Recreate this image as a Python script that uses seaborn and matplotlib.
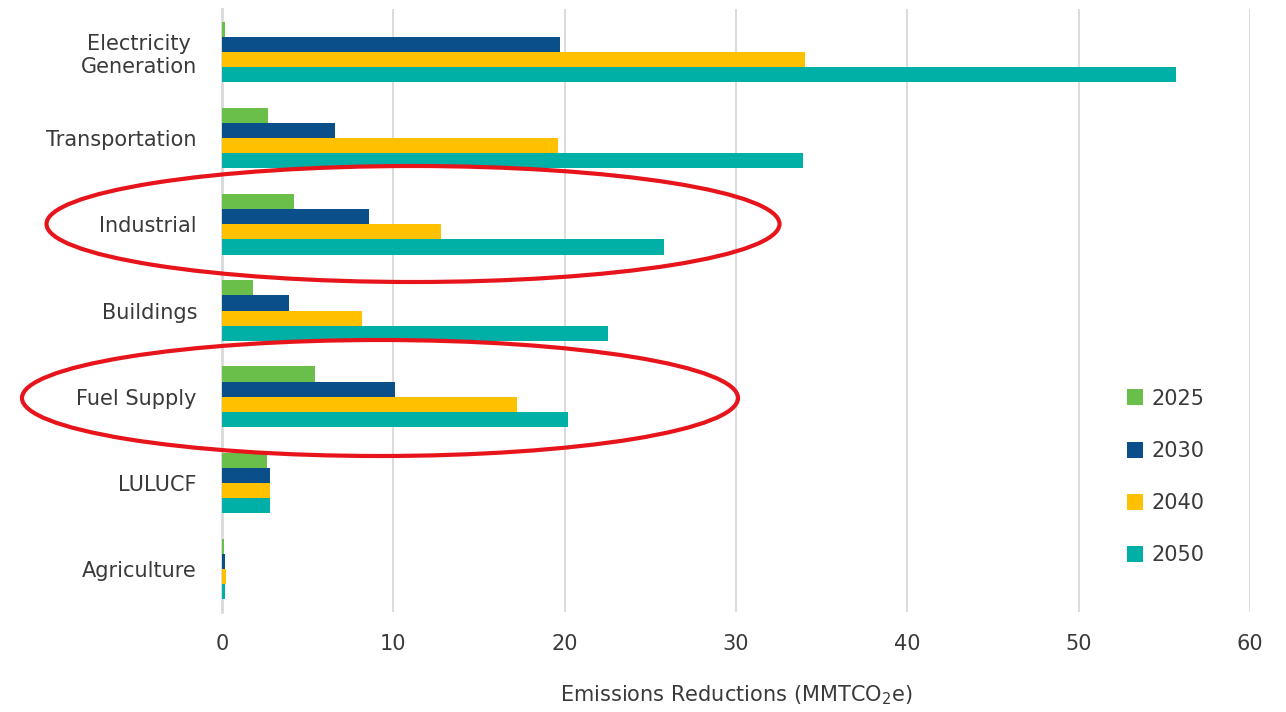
import matplotlib
matplotlib.use("Agg")
import matplotlib.pyplot as plt
import seaborn as sns
import pandas as pd
from matplotlib.patches import Ellipse

categories = ["Electricity\nGeneration", "Transportation", "Industrial", "Buildings",
              "Fuel Supply", "LULUCF", "Agriculture"]
years = ["2025", "2030", "2040", "2050"]
v2025 = [0.2, 2.7, 4.2, 1.8, 5.4, 2.6, 0.1]
v2030 = [19.7, 6.6, 8.6, 3.9, 10.1, 2.8, 0.15]
v2040 = [34.0, 19.6, 12.8, 8.2, 17.2, 2.8, 0.25]
v2050 = [55.7, 33.9, 25.8, 22.5, 20.2, 2.8, 0.2]
colors = ["#6abf4b", "#0a4f8a", "#ffc000", "#00b0a6"]
xticks = [0, 10, 20, 30, 40, 50, 60]

rows = []
for yr, vals in zip(years, [v2025, v2030, v2040, v2050]):
    for c, v in zip(categories, vals):
        rows.append({"Category": c, "Year": yr, "Value": v})
df = pd.DataFrame(rows)

sns.set_style("white")
plt.rcParams["font.family"] = ["DejaVu Sans"]
plt.rcParams["mathtext.default"] = "regular"

fig = plt.figure(figsize=(12.86, 7.12), dpi=100)
ax = fig.add_axes([222/1286, 1-612/712, (1250-222)/1286, (612-9)/712])

sns.barplot(data=df, y="Category", x="Value", hue="Year", order=categories,
            hue_order=years, palette=colors, orient="h", width=0.7,
            saturation=1, ax=ax, legend=True, zorder=3, linewidth=0)

ax.set_xlim(0, 60)
ax.set_xticks(xticks)
ax.set_ylim(6.5, -0.5)
ax.grid(axis="x", color="#d9d9d9", linewidth=1.3, zorder=0)
ax.set_axisbelow(True)
for s in ["top", "right", "bottom"]:
    ax.spines[s].set_visible(False)
ax.spines["left"].set_color("#d9d9d9")
ax.spines["left"].set_linewidth(2)
ax.tick_params(axis="x", length=0, pad=16, labelsize=15, labelcolor="#3a3a3a")
ax.tick_params(axis="y", length=0, pad=18, labelsize=15, labelcolor="#3a3a3a")
for lab in ax.get_yticklabels():
    lab.set_multialignment("center")
ax.set_ylabel("")
ax.set_xlabel("Emissions Reductions (MMTCO$_2$e)", fontsize=15, color="#3a3a3a", labelpad=21)

leg = ax.legend(loc="center left", bbox_to_anchor=(1108/1286, 1-477/712),
                bbox_transform=fig.transFigure, frameon=False, fontsize=15,
                labelspacing=1.55, handlelength=0.8, handleheight=0.8,
                handletextpad=0.4, labelcolor="#3a3a3a")
for h in leg.legend_handles:
    h.set_linewidth(0)

fig.add_artist(Ellipse((413/1286, 1-224/712), 733/1286, 116/712,
                       transform=fig.transFigure, fill=False, edgecolor="#e8141b",
                       linewidth=3, zorder=10))
fig.add_artist(Ellipse((380/1286, 1-398/712), 716/1286, 116/712,
                       transform=fig.transFigure, fill=False, edgecolor="#e8141b",
                       linewidth=3, zorder=10))

fig.savefig("out.png", dpi=100, facecolor="white")
